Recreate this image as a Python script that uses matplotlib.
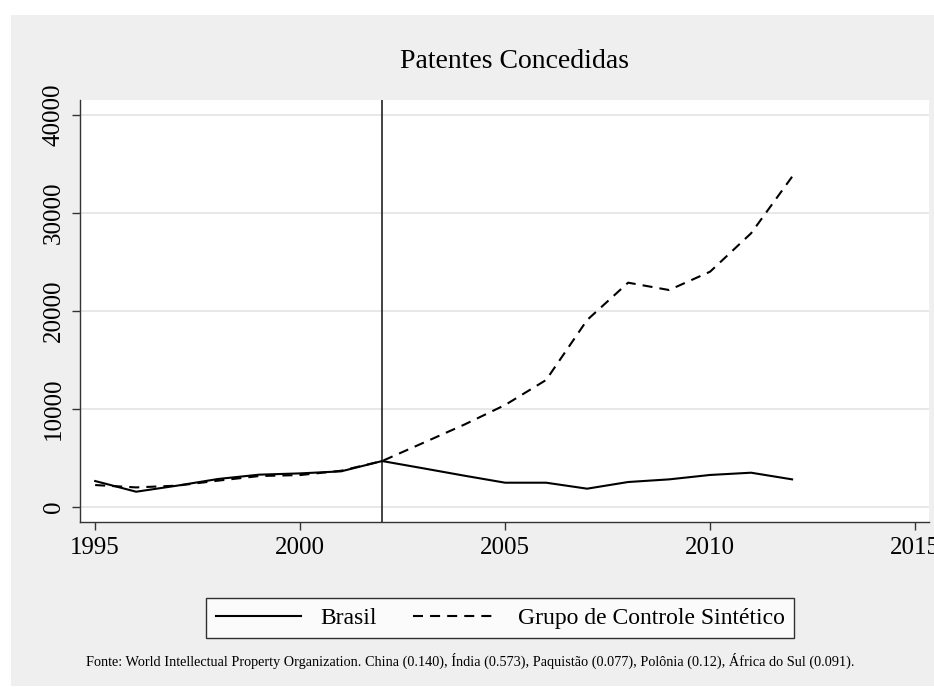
import numpy as np
import matplotlib
matplotlib.use("Agg")
import matplotlib.pyplot as plt
from matplotlib.patches import Rectangle

plt.rcParams['font.family'] = ['Liberation Serif', 'DejaVu Serif']

# dados
anos = list(range(1995, 2013))
brasil = [2650, 1560, 2180, 2860, 3300, 3430, 3640, 4690, 3950, 3200,
          2480, 2480, 1870, 2550, 2820, 3270, 3500, 2820]
sintetico = [2240, 2000, 2180, 2690, 3160, 3260, 3700, 4690, 6540, 8400,
             10410, 12960, 19080, 22890, 22140, 24010, 27930, 33700]
ano_tratamento = 2002
xticks = [1995, 2000, 2005, 2010, 2015]
yticks = [0, 10000, 20000, 30000, 40000]

titulo = "Patentes Concedidas"
nomes = ["Brasil", "Grupo de Controle Sintético"]
fonte = ("Fonte: World Intellectual Property Organization. China (0.140), Índia (0.573), "
         "Paquistão (0.077), Polônia (0.12), África do Sul (0.091).")

fig = plt.figure(figsize=(9.34, 6.87), dpi=100)
fig.patch.set_facecolor("white")
W, H = 934, 687
# fundo cinza estilo stata
fig.patches.append(Rectangle((11 / W, 1 / H), (W - 11) / W, (686 - 15) / H,
                             transform=fig.transFigure, facecolor="#efefef",
                             edgecolor="none", zorder=-10))

ax = fig.add_axes([80 / W, (H - 522) / H, (929 - 80) / W, (522 - 100) / H])
ax.set_facecolor("white")

ax.plot(anos, brasil, color="black", lw=1.5, label=nomes[0], zorder=3)
ax.plot(anos, sintetico, color="black", lw=1.5, ls=(0, (4.8, 3.4)),
        label=nomes[1], zorder=3)
ax.axvline(ano_tratamento, color="#222222", lw=1.2, zorder=2)

ax.set_xlim(1994.63, 2015.34)
ax.set_ylim(-1530, 41530)
ax.set_xticks(xticks)
ax.set_yticks(yticks)
ax.yaxis.grid(True, color="#e6e6e6", lw=1.3)
ax.set_axisbelow(True)
ax.tick_params(axis="both", direction="out", length=6, width=1,
               color="#333333", labelsize=18, pad=5)
plt.setp(ax.get_yticklabels(), rotation=90, va="center")
for s in ["top", "right"]:
    ax.spines[s].set_visible(False)
for s in ["left", "bottom"]:
    ax.spines[s].set_color("#333333")
    ax.spines[s].set_linewidth(1.0)

fig.text(515 / W, 1 - 62 / H, titulo, ha="center", va="center", fontsize=20)

leg = fig.legend(handles=ax.get_lines()[:2], loc="center",
                 bbox_to_anchor=(500 / W, 1 - 618 / H), ncol=2,
                 fontsize=17, frameon=True, fancybox=False, edgecolor="black",
                 handlelength=3.6, columnspacing=1.5, handletextpad=0.85,
                 borderpad=0.4)
leg.get_frame().set_linewidth(1.0)
leg.get_frame().set_facecolor("white")

fig.text(470 / W, 1 - 661 / H, fonte, ha="center", va="center", fontsize=10.3)

fig.savefig("out.png", dpi=100, facecolor=fig.get_facecolor())
